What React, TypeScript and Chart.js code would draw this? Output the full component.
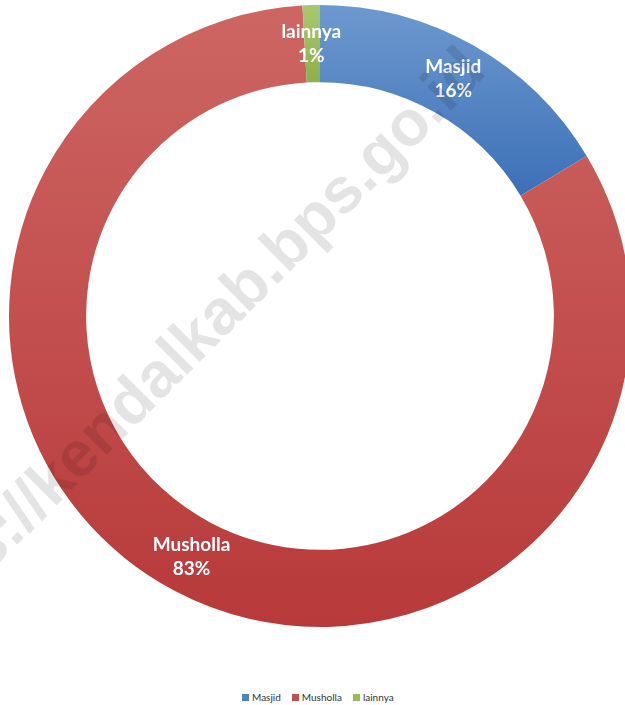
import React, { useEffect, useRef } from "react";
import { Chart, registerables } from "chart.js";

Chart.register(...registerables);

const categories = ["Masjid", "Musholla", "lainnya"];
const values = [16.4, 82.7, 0.9];
const percentLabels = ["16%", "83%", "1%"];
const watermark = "https://kendalkab.bps.go.id";

const legendColors = ["#4f81bd", "#c0504d", "#9bbb59"];
// [top colour, bottom colour, fraction of chart height for gradient span]
const gradients: [string, string, number][] = [
  ["#6e99cf", "#3b6fb7", 0.31],
  ["#cd6663", "#b8393a", 1.0],
  ["#a8c86e", "#8db04a", 0.125],
];

export default function App() {
  const ref = useRef<HTMLCanvasElement | null>(null);

  useEffect(() => {
    if (!ref.current) return;

    const labelPlugin = {
      id: "sliceLabels",
      afterDatasetsDraw(chart: any) {
        const ctx = chart.ctx;
        const meta = chart.getDatasetMeta(0);
        ctx.save();
        ctx.fillStyle = "#ffffff";
        ctx.font = "bold 19px Lato, 'Open Sans', sans-serif";
        ctx.textAlign = "center";
        ctx.textBaseline = "middle";
        meta.data.forEach((el: any, i: number) => {
          const p = el.tooltipPosition();
          ctx.fillText(categories[i], p.x - 1, p.y - 12);
          ctx.fillText(percentLabels[i], p.x - 1, p.y + 12);
        });
        ctx.restore();
      },
    };

    const watermarkPlugin = {
      id: "watermark",
      afterDraw(chart: any) {
        const ctx = chart.ctx;
        const a = chart.chartArea;
        const cx = (a.left + a.right) / 2;
        const cy = (a.top + a.bottom) / 2;
        ctx.save();
        ctx.font = "bold 64px 'Liberation Sans', Arial, sans-serif";
        ctx.fillStyle = "rgba(0,0,0,0.105)";
        ctx.textBaseline = "alphabetic";
        ctx.textAlign = "left";
        // anchor: the dot after "kendalkab"
        ctx.translate(cx - 42, cy - 38);
        ctx.rotate(-Math.PI / 4);
        const pre = ctx.measureText("https://kendalkab").width;
        const dot = ctx.measureText(".").width;
        ctx.fillText(watermark, -pre - dot / 2, 4);
        ctx.restore();
      },
    };

    const chart = new Chart(ref.current, {
      type: "doughnut",
      data: {
        labels: categories,
        datasets: [
          {
            data: values,
            borderWidth: 0,
            backgroundColor: (c: any) => {
              const ch = c.chart;
              const a = ch.chartArea;
              if (!a) return legendColors[c.dataIndex];
              const g = gradients[c.dataIndex];
              const h = a.bottom - a.top;
              const grad = ch.ctx.createLinearGradient(0, a.top, 0, a.top + h * g[2]);
              grad.addColorStop(0, g[0]);
              grad.addColorStop(1, g[1]);
              return grad;
            },
          },
        ],
      },
      options: {
        responsive: false,
        maintainAspectRatio: false,
        animation: false,
        cutout: "75.2%",
        layout: { padding: { left: 9, right: 9, top: 5, bottom: 5 } },
        plugins: {
          legend: { display: false },
          tooltip: { enabled: false },
        },
        events: [],
      },
      plugins: [labelPlugin, watermarkPlugin],
    } as any);

    return () => chart.destroy();
  }, []);

  return (
    <div style={{ position: "fixed", left: 0, top: 0, width: 625, height: 705, overflow: "hidden", background: "#fff" }}>
      <canvas ref={ref} width={640} height={632} style={{ position: "absolute", left: 0, top: 0 }} />
      <div
        style={{
          position: "absolute",
          left: 242,
          top: 690,
          display: "flex",
          alignItems: "center",
          fontFamily: "Lato, 'Open Sans', sans-serif",
          fontSize: 10,
          color: "#333333",
          lineHeight: "14px",
        }}
      >
        {categories.map((c, i) => (
          <div key={c} style={{ display: "flex", alignItems: "center", marginRight: i < categories.length - 1 ? 11 : 0 }}>
            <span style={{ display: "inline-block", width: 7, height: 7, background: legendColors[i], marginRight: 3 }} />
            <span>{c}</span>
          </div>
        ))}
      </div>
    </div>
  );
}
